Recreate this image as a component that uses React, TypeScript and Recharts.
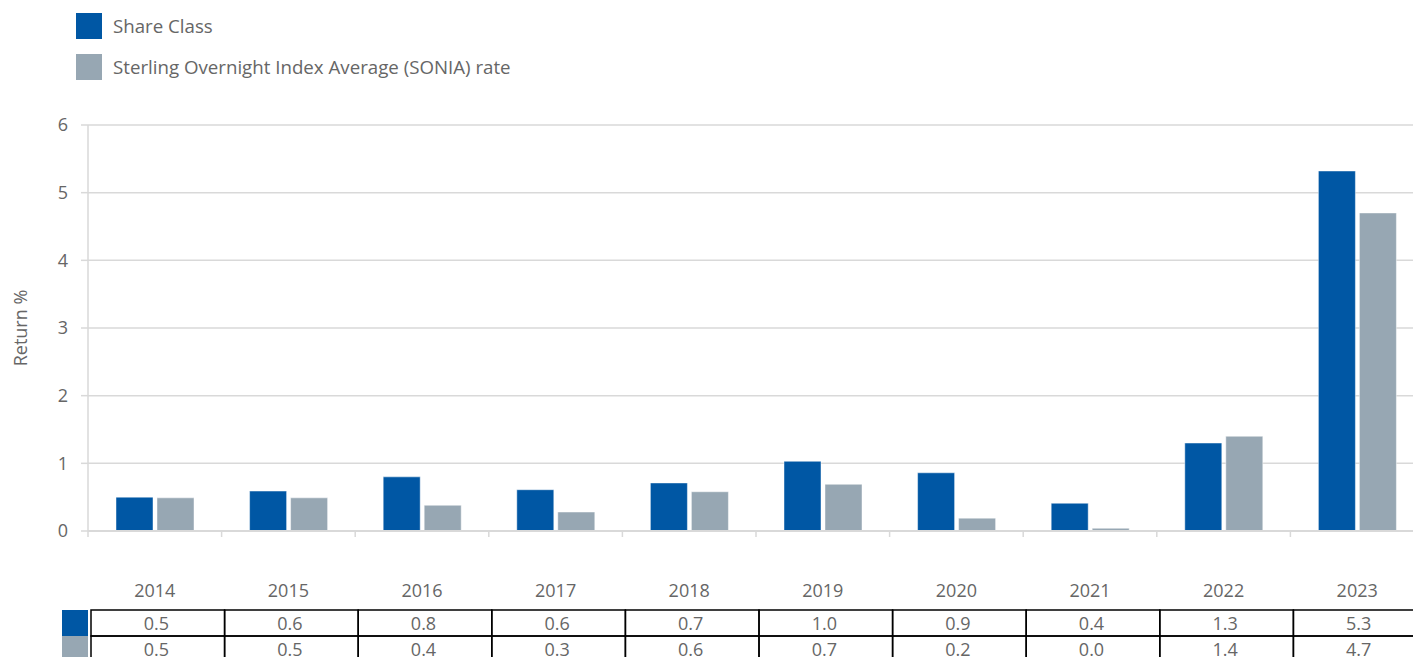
import React from 'react';
import { BarChart, Bar, XAxis, YAxis, CartesianGrid } from 'recharts';

const years = ['2014', '2015', '2016', '2017', '2018', '2019', '2020', '2021', '2022', '2023'];
const shareClass = [0.5, 0.59, 0.8, 0.61, 0.71, 1.03, 0.86, 0.41, 1.3, 5.32];
const sonia = [0.49, 0.49, 0.38, 0.28, 0.58, 0.69, 0.19, 0.04, 1.4, 4.7];
const yTicks = [0, 1, 2, 3, 4, 5, 6];
const seriesNames = ['Share Class', 'Sterling Overnight Index Average (SONIA) rate'];
const seriesKeys = ['share', 'sonia'];
const seriesColors = ['#0057A4', '#97A7B3'];
const yLabel = 'Return %';

const data = years.map((y, i) => ({ year: y, share: shareClass[i], sonia: sonia[i] }));

const FONT = '"Open Sans", sans-serif';
const TEXT = '#666666';
const GRID = '#d9d9d9';
const CHART_W = 1430;
const CHART_H = 670;
const MARGIN = { top: 125, right: 6, left: 0, bottom: 9 };
const Y_W = 88;
const PLOT_W = CHART_W - MARGIN.left - MARGIN.right - Y_W;
const CAT_W = PLOT_W / years.length;

const XTick = (props: any) => {
  const { x, y, payload } = props;
  const idx = years.indexOf(payload.value);
  const d = data[idx];
  const left = x - CAT_W / 2;
  const right = x + CAT_W / 2;
  const rowTop = y + 79;
  const rowH = 26;
  return (
    <g>
      <line x1={left} x2={left} y1={y} y2={y + 6} stroke={GRID} strokeWidth={1.5} />
      {idx === years.length - 1 && (
        <line x1={right} x2={right} y1={y} y2={y + 6} stroke={GRID} strokeWidth={1.5} />
      )}
      <text x={x} y={y + 59} textAnchor="middle" dominantBaseline="central" fill={TEXT} fontSize={18} fontFamily={FONT}>
        {payload.value}
      </text>
      {seriesKeys.map((k, r) => (
        <g key={k}>
          {idx === 0 && (
            <rect x={left - 26} y={rowTop + r * rowH} width={26} height={rowH} fill={seriesColors[r]} />
          )}
          <rect x={left + 3} y={rowTop + r * rowH} width={CAT_W} height={rowH} fill="none" stroke="#000" strokeWidth={1.5} />
          <text x={x + 1.5} y={rowTop + r * rowH + rowH / 2} textAnchor="middle" dominantBaseline="central" fill={TEXT} fontSize={18} fontFamily={FONT}>
            {(d as any)[k].toFixed(1)}
          </text>
        </g>
      ))}
    </g>
  );
};

const YLabel = (props: any) => {
  const vb = props.viewBox || {};
  const cx = 20;
  const cy = vb.y + vb.height / 2;
  return (
    <text x={cx} y={cy} transform={`rotate(-90 ${cx} ${cy})`} textAnchor="middle" dominantBaseline="central" fill={TEXT} fontSize={18} fontFamily={FONT}>
      {yLabel}
    </text>
  );
};

export default function App() {
  return (
    <div style={{ position: 'absolute', left: 0, top: 0, width: 1413, height: 657, overflow: 'hidden', background: '#fff', fontFamily: FONT }}>
      <div style={{ position: 'absolute', left: 76, top: 13 }}>
        {seriesNames.map((n, i) => (
          <div key={n} style={{ display: 'flex', alignItems: 'center', height: 26, marginBottom: 15 }}>
            <div style={{ width: 26, height: 26, background: seriesColors[i] }} />
            <span style={{ marginLeft: 11, fontSize: 18.7, color: TEXT, lineHeight: '26px' }}>{n}</span>
          </div>
        ))}
      </div>
      <div style={{ position: 'absolute', left: 0, top: 0 }}>
        <BarChart width={CHART_W} height={CHART_H} data={data} margin={MARGIN} barSize={37} barGap={4}>
          <CartesianGrid horizontal vertical={false} stroke={GRID} strokeWidth={1.5} />
          <XAxis
            dataKey="year"
            interval={0}
            tickLine={false}
            tickSize={0}
            tickMargin={0}
            height={130}
            axisLine={{ stroke: GRID, strokeWidth: 2 }}
            tick={<XTick />}
          />
          <YAxis
            width={Y_W}
            domain={[0, 6]}
            ticks={yTicks}
            interval={0}
            tickSize={7}
            tickMargin={13}
            axisLine={{ stroke: GRID, strokeWidth: 1.5 }}
            tickLine={{ stroke: GRID, strokeWidth: 1.5 }}
            tick={{ fill: TEXT, fontSize: 18, fontFamily: FONT }}
            label={<YLabel />}
          />
          {seriesKeys.map((k, i) => (
            <Bar key={k} dataKey={k} name={seriesNames[i]} fill={seriesColors[i]} stroke="#ffffff" strokeOpacity={0.45} strokeWidth={1} isAnimationActive={false} />
          ))}
        </BarChart>
      </div>
    </div>
  );
}
